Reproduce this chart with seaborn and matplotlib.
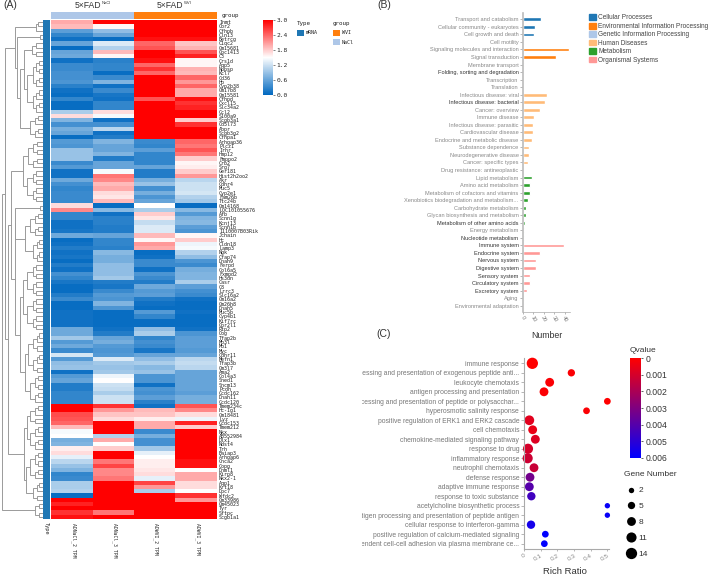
import numpy as np
import pandas as pd
import seaborn as sns
import matplotlib
matplotlib.use("Agg")
import matplotlib.pyplot as plt
from matplotlib.cm import ScalarMappable
from matplotlib.colors import LinearSegmentedColormap, ListedColormap, Normalize
from matplotlib.lines import Line2D
from matplotlib.patches import Patch, Rectangle
from matplotlib.transforms import Bbox, TransformedBbox

# =============================================================================
# PANEL A DATA
# =============================================================================

genes = [
    "Inmt", "Cbr2", "Cfhpb", "Cln13", "Betrcg", "C1qc2", "Gm15681", "Gpc1413", "C3", "Crs1d",
    "Aqp5", "Nppsp", "Kcl7", "Cd36", "Hp", "Cyp2b38", "Gm17b8", "Gm15581", "Cfhpd", "Cxcl15",
    "Slc34a2", "Ccl2", "S100a9", "Scgb3a1", "Cd5l73", "Abpr", "Scgb3g2", "Cfhpa1", "Arhgap36", "Plcz1",
    "Irhr", "Hmp12", "Fmppo2", "Crb2", "Srg7", "Ger181", "Hist2h2oo2", "Akr", "Cdhr4", "Muc5",
    "Cyp2e1", "Fam26b", "Ttc24b", "Gm14168", "LOC101055676", "Afb", "Scnn1g", "Kcnj13", "Scnn1b", "1110007B03Rik",
    "Jchain", "Hc", "Cldn18", "Lamp3", "Ngk", "Cfap74", "Dnah9", "Ferpd", "Col6a5", "Fxmpd2",
    "Hs3dn", "Casr", "C8", "Lrrc3", "Slc16a2", "Gm16a2", "Gm26h8", "Dnah5", "Muc5b", "Cyp4b1",
    "Kif7rc", "Gpr2l1", "Rtp2", "Oog", "Tfap2b", "Mb3l", "Mb1", "Myc", "Cdhr11", "Mefn1",
    "Tfap3b", "Gm3l7", "Ama2", "Col4a3", "Sned1", "Sncm13", "Pcdh", "Ccdc162", "Dnah11", "Ccdc120",
    "Tmem234c", "Hc-Ig1", "Gm18481", "Lyz", "Ccdc153", "Tmem212", "Nkx", "AB552984", "Dlx1", "Ndst4",
    "Trh", "Baiap3", "Arhgap6", "Cnca2", "Copg", "Dnml1", "Kirp8", "Nkx2-1", "Aqp1", "Krt18",
    "Dpc7", "Wfdc2", "Gm33986", "Gm45023", "Tyr", "Sftpc", "Scgb1a1",
]

nacl_2 = [
    2.0, 1.9, .55, .3, .1, .6, .05, .6, .65, .1, .35, .35, .4, .4, .45, .25, .1, .05, .3, .05,
    .05, 1.0, 1.7, .75, .4, .7, .6, .05, .5, .45, .9, .9, .9, .35, .5, .1, .1, .65, .4, .3,
    .35, .35, .35, 1.7, 2.2, .3, .3, .1, .1, .15, .65, .05, .1, .2, .1, .15, .05, .2, .1, .4,
    .3, .15, .05, .05, .2, .35, .05, .05, .1, .1, .1, .1, .65, .65, .95, .5, .65, .35, 1.25, .5,
    .85, .9, .1, .5, .6, .2, .2, .3, .3, .3, 3, 3, 2.55, 2.5, 2.4, 1.9, 1.45, 1.5, .7, .75,
    1.6, 1.7, 1.35, 1.1, .9, .75, .3, .35, 1.0, 1.0, 1.05, .05, 3, 2.8, 3, 2.7, 2.9,
]
nacl_3 = [
    3, 1.55, .85, .6, .05, 1.3, 1.05, 1.9, 1.55, .25, .3, .3, .05, .35, .75, .1, .35, .15, .1, .3,
    .3, 1.7, 1.45, .1, .4, 1.1, .1, .2, .75, .6, .6, .75, .2, .6, .6, 1.45, 2.3, 2.2, 1.9, 2.0,
    1.7, 1.65, 1.9, .05, .8, .1, .25, .25, .2, .2, .6, .3, .3, .25, .8, .7, .7, .85, .85, .85,
    .95, .2, .15, .35, .5, .45, .75, .45, .05, .05, .05, .05, .1, .2, .6, .7, .5, .45, .5, 1.3,
    .95, .9, .95, 1.4, 1.5, 1.2, 1.15, 1.0, 1.2, 1.2, 2.7, 2.1, 1.85, 1.7, 3, 3, 3, 1.05, 2.0, 1.5,
    1.8, 3, 3, 2.3, 2.6, 2.2, 2.2, 2.3, 3, 3, 3, 3, 3, 3, 3, 2.3, 3,
]
wvi_2 = [
    3, 3, 3, 3, 2.9, 2.4, 2.5, 3, 3, 2.9, 2.4, 2.7, 2.4, 3, 3, 3, 3, 3, 2.5, 3,
    3, 3, 3, 3, 3, 3, 3, 3, .35, .3, .55, .3, .3, .3, .6, .2, .2, .7, .9, .4,
    .7, .45, .6, 1.5, 1.0, 1.8, 1.65, 1.15, 1.3, 1.3, 1.9, 1.55, 2.1, 2.0, .05, .1, .35, .35, .1, .45,
    .35, .2, .65, .5, .55, .2, .1, .05, .5, .3, .05, .05, .85, 1.0, .3, .4, .35, .15, .6, .85,
    1.0, .8, .9, .45, .45, .1, .45, .4, .55, .25, .1, 1.9, 1.85, 1.6, 2.0, 2.0, .35, .7, .4, .4,
    .95, 1.35, 1.5, 1.6, 1.6, 1.65, 1.7, 1.35, 2.6, 2.1, 1.0, 3, 3, 3, 3, 3, 3,
]
wvi_3 = [
    3, 3, 3, 3, 2.9, 1.85, 1.95, 2.5, 2.8, 1.55, 1.55, 1.95, 1.9, 2.4, 2.1, 2.4, 2.0, 2.0, 2.9, 2.7,
    2.8, 3, 3, 1.8, 2.7, 3, 3, 3, 2.4, 2.3, 2.5, 2.3, 1.8, 1.55, 1.6, 1.8, 2.1, 1.1, 1.2, 1.2,
    1.25, 1.05, .95, .05, .8, .5, .75, .8, .55, .45, 1.55, 1.8, 1.4, 1.45, 1.05, .85, .45, .35, .7, .75,
    .75, 1.0, .55, .4, .35, .1, .05, .05, .1, .05, .05, .05, .1, .45, .55, .55, .55, .5, .6, 1.1,
    1.15, 1.1, .6, .6, .6, .6, .6, .55, .7, .7, 2.5, 2.2, 1.7, 1.4, 2.8, 1.8, 3, 3, 3, 3,
    3, 3, 3, 2.9, 2.9, 1.5, 2.0, 2.0, 1.7, 1.7, 1.5, 2.7, 2.1, 3, 3, 3, 3,
]
sample_labels = ["ADNaCl_2 TPM", "ADNaCl_3 TPM", "ADWVI_2 TPM", "ADWVI_3 TPM"]

# dendrogram: (distance, upper, lower), (distance, n leaves) or 1 leaf
tree_a = (15, (36, 3), (17, (40, 2), (20, (24, (32, 4), (27, 13)), (30, 6))))
tree_b = (23, (28, 7), (27, 8))
tree_c = (15, (40, 2), (25, (30, 6), (33, 6)))
tree_d = (20, (23, (27, 8), (27, 8)), (25, (28, 10), (30, 7)))
tree_f = (24, (27, (30, 5), (30, 6)), (26, (30, 7), (33, 5)))
tree_g = (35, (39, 2), (39, 2))
link_tree = (1.5, (5, tree_a, (7.5, (11, tree_b, (15, tree_c, tree_d)), tree_f)), tree_g)

# =============================================================================
# PANEL B DATA
# =============================================================================

pathways = [
    "Transport and catabolism", "Cellular community - eukaryotes", "Cell growth and death", "Cell motility",
    "Signaling molecules and interaction", "Signal transduction", "Membrane transport",
    "Folding, sorting and degradation", "Transcription", "Translation",
    "Infectious disease: viral", "Infectious disease: bacterial", "Cancer: overview", "Immune disease",
    "Infectious disease: parasitic", "Cardiovascular disease", "Endocrine and metabolic disease",
    "Substance dependence", "Neurodegenerative disease", "Cancer: specific types",
    "Drug resistance: antineoplastic", "Lipid metabolism", "Amino acid metabolism",
    "Metabolism of cofactors and vitamins", "Xenobiotics biodegradation and metabolism...",
    "Carbohydrate metabolism", "Glycan biosynthesis and metabolism", "Metabolism of other amino acids",
    "Energy metabolism", "Nucleotide metabolism", "Immune system", "Endocrine system", "Nervous system",
    "Digestive system", "Sensory system", "Circulatory system", "Excretory system", "Aging",
    "Environmental adaptation",
]
pathway_counts = [
    17, 12, 11, 1, 44, 32, 1, 0, 0, 0, 23, 21, 16, 11, 10, 10, 9, 6, 6, 5,
    0, 9, 7, 7, 5, 3, 3, 2, 1, 1, 39, 16, 13, 13, 7, 7, 4, 1, 1,
]
group_names = [
    "Cellular Processes", "Environmental Information Processing", "Genetic Information Processing",
    "Human Diseases", "Metabolism", "Organismal Systems",
]
group_sizes = [4, 3, 3, 11, 9, 9]
group_colors = ["#1f77b4", "#ff7f0e", "#aec7e8", "#ffbb78", "#2ca02c", "#ff9896"]
dark_pathways = [
    "Folding, sorting and degradation", "Infectious disease: bacterial", "Metabolism of other amino acids",
    "Nucleotide metabolism", "Immune system", "Endocrine system", "Nervous system", "Digestive system",
    "Sensory system", "Circulatory system", "Excretory system",
]

# =============================================================================
# PANEL C DATA
# =============================================================================

terms = [
    "immune response", "antigen processing and presentation of exogenous peptide anti...",
    "leukocyte chemotaxis", "antigen processing and presentation",
    "antigen processing and presentation of peptide or polysacchar...", "hyperosmotic salinity response",
    "positive regulation of ERK1 and ERK2 cascade", "cell chemotaxis", "chemokine-mediated signaling pathway",
    "response to drug", "inflammatory response", "neutrophil chemotaxis", "defense response",
    "adaptive immune response", "response to toxic substance", "acetylcholine biosynthetic process",
    "antigen processing and presentation of peptide antigen", "cellular response to interferon-gamma",
    "positive regulation of calcium-mediated signaling",
    "calcium-independent cell-cell adhesion via plasma membrane ce...",
]
rich_ratio = [.05, .284, .154, .12, .5, .375, .032, .052, .068, .024, .022, .06, .036, .032, .044, .5, .5, .042, .128, .122]
qvalues = [0, .0001, .0001, .0001, 0, .0001, .0007, .0005, .0008, .001, .0012, .0013, .0033, .004, .0045, .0058, .0058, .0055, .006, .006]
gene_counts = [14, 5, 8, 8, 4, 4, 10, 8, 8, 11, 11, 8, 8, 8, 7, 2, 2, 7, 4, 4]
gene_legend = [2, 5, 8, 11, 14]
q_ticks = [0, .001, .002, .003, .004, .005, .006]

# =============================================================================
# FIGURE SETUP
# =============================================================================

sns.set_theme(style="white")
plt.rcParams["font.family"] = ["Liberation Sans", "DejaVu Sans"]

W, H = 709, 576
fig = plt.figure(figsize=(W / 100, H / 100), dpi=100)


def ax_px(x0, y0, x1, y1):
    return fig.add_axes([x0 / W, 1 - y1 / H, (x1 - x0) / W, (y1 - y0) / H])


def text_px(x, y, s, **kw):
    kw.setdefault("va", "center")
    fig.text(x / W, 1 - y / H, s, **kw)


def square_px(x0, y0, x1, y1, color):
    fig.add_artist(Rectangle((x0 / W, 1 - y1 / H), (x1 - x0) / W, (y1 - y0) / H,
                             transform=fig.transFigure, color=color, lw=0))


# =============================================================================
# PANEL A - HEATMAP
# =============================================================================

MONO = "DejaVu Sans Mono"
heat_cmap = LinearSegmentedColormap.from_list("heat", ["#0068c0", "#ffffff", "#ff0000"])
heat_df = pd.DataFrame({"n2": nacl_2, "n3": nacl_3, "w2": wvi_2, "w3": wvi_3}, index=genes)

ax_heat = ax_px(51, 20, 217, 519)
ax_cbar = ax_px(263, 20, 273, 95)
sns.heatmap(heat_df, cmap=heat_cmap, vmin=0, vmax=3, ax=ax_heat, cbar_ax=ax_cbar,
            xticklabels=False, yticklabels=True)
ax_heat.yaxis.tick_right()
ax_heat.tick_params(axis="y", length=0, pad=1.5, labelrotation=0)
for lab in ax_heat.get_yticklabels():
    lab.set_fontsize(3.6)
    lab.set_family(MONO)
    lab.set_color("#222222")
ax_heat.set_xlabel("")
ax_heat.set_ylabel("")

ax_cbar.set_yticks([0, .6, 1.2, 1.8, 2.4, 3.0])
ax_cbar.set_yticklabels(["0.0", "0.6", "1.2", "1.8", "2.4", "3.0"], fontsize=4.5, family=MONO)
ax_cbar.tick_params(axis="y", length=1.5, width=.4, pad=1, right=True)

# group bar
ax_group = ax_px(51, 12, 217, 19)
sns.heatmap(pd.DataFrame([[0, 0, 1, 1]]), cmap=ListedColormap(["#aec7e8", "#ff7f0e"]), cbar=False,
            ax=ax_group, xticklabels=False, yticklabels=False)
ax_group.set_xlabel("")
ax_group.set_ylabel("")
text_px(222, 15, "group", fontsize=4.2, family=MONO, color="#222222")

# type bar
ax_type = ax_px(43, 20, 50, 519)
sns.heatmap(pd.DataFrame(np.zeros((len(genes), 1))), cmap=ListedColormap(["#1f77b4"]), cbar=False,
            ax=ax_type, xticklabels=False, yticklabels=False)
text_px(46.5, 522, "Type", fontsize=3.8, family=MONO, rotation=270, ha="center", va="top", color="#222222")

for x, lab in zip([73.5, 115, 156, 198], sample_labels):
    text_px(x, 523, lab, fontsize=3.4, family=MONO, rotation=270, ha="center", va="top", color="#222222")

# dendrogram
ax_tree = ax_px(0, 20, 43, 519)
ax_tree.set_xlim(0, 43)
ax_tree.set_ylim(len(genes), 0)
ax_tree.axis("off")
next_leaf = [0]


def draw_clade(node):
    if node == 1:
        next_leaf[0] += 1
        return 43, next_leaf[0] - 0.5
    if len(node) == 2:
        x, n = node
        if n == 1:
            return draw_clade(1)
        step = x + (43 - x) * 0.35
        top = n // 2 + n % 2
        parts = [(step, top) if top > 1 else 1, (step, n - top) if n - top > 1 else 1]
    else:
        x, parts = node[0], node[1:]
    x1, y1 = draw_clade(parts[0])
    x2, y2 = draw_clade(parts[1])
    ax_tree.plot([x1, x, x, x2], [y1, y1, y2, y2], color="#9a9a9a", lw=0.7, solid_joinstyle="miter")
    return x, (y1 + y2) / 2


draw_clade(link_tree)

# titles and legends of panel A
text_px(3, 5, "(A)", fontsize=7.5, color="#333333")
text_px(101.5, 5.5, "5×FAD", fontsize=6.2, ha="right", color="#333333")
text_px(102, 3, "NaCl", fontsize=3, color="#333333")
text_px(183, 5.5, "5×FAD", fontsize=6.2, ha="right", color="#333333")
text_px(183.5, 3, "WVI", fontsize=3, color="#333333")
text_px(297, 24, "Type", fontsize=4.2, family=MONO, color="#222222")
square_px(297, 30, 304, 36, "#1f77b4")
text_px(306, 33, "mRNA", fontsize=3.6, family=MONO, color="#222222")
text_px(333, 24, "group", fontsize=4.2, family=MONO, color="#222222")
square_px(333, 30, 340, 36, "#ff7f0e")
text_px(342, 33, "WVI", fontsize=3.6, family=MONO, color="#222222")
square_px(333, 39, 340, 45, "#aec7e8")
text_px(342, 42, "NaCl", fontsize=3.6, family=MONO, color="#222222")

# =============================================================================
# PANEL B - BAR CHART
# =============================================================================

pathway_df = pd.DataFrame({
    "pathway": pathways,
    "count": pathway_counts,
    "group": np.repeat(group_names, group_sizes),
})
ax_bar = ax_px(522.7, 13, 570, 312)
sns.barplot(data=pathway_df, y="pathway", x="count", hue="group", hue_order=group_names,
            palette=group_colors, dodge=False, width=0.5, saturation=1, legend=False, ax=ax_bar)
ax_bar.set_xlim(0, 44.8)
ax_bar.set_ylim(38.84, -0.84)
ax_bar.set_xticks([0, 10, 20, 30, 40])
ax_bar.set_xlabel("")
ax_bar.set_ylabel("")
ax_bar.tick_params(axis="y", length=2, width=.5, color="#999999", pad=1, left=True)
ax_bar.tick_params(axis="x", length=1.5, width=.5, color="#999999", pad=1, bottom=True, labelsize=4, labelcolor="#777777", labelrotation=-60)
for lab in ax_bar.get_yticklabels():
    lab.set_fontsize(4.1)
    lab.set_color("#333333" if lab.get_text() in dark_pathways else "#888888")
sns.despine(ax=ax_bar)
ax_bar.spines["left"].set_color("#bbbbbb")
ax_bar.spines["left"].set_linewidth(1.2)
ax_bar.spines["bottom"].set_color("#aaaaaa")
ax_bar.spines["bottom"].set_linewidth(.5)

handles = [Patch(color=c) for c in group_colors]
fig.legend(handles, group_names, loc="upper left", bbox_to_anchor=(584 / W, 1 - 9 / H), frameon=False,
           fontsize=4.7, handlelength=1.0, handleheight=1.0, labelspacing=0.2, handletextpad=0.4,
           borderpad=0.3, labelcolor="#444444")

text_px(377, 5, "(B)", fontsize=7.5, color="#333333")
text_px(546.5, 336, "Number", fontsize=6.3, ha="center", color="#333333")
text_px(376, 334, "(C)", fontsize=7.5, color="#333333")

# =============================================================================
# PANEL C - BUBBLE CHART
# =============================================================================

q_cmap = LinearSegmentedColormap.from_list("qvalue", ["#ff0000", "#0000ff"])
bubble_df = pd.DataFrame({"term": terms, "ratio": rich_ratio, "q": qvalues, "genes": gene_counts})
ax_bub = ax_px(524, 358, 608.7, 549)
sns.scatterplot(data=bubble_df, x="ratio", y="term", hue="q", palette=q_cmap, hue_norm=(0, .006),
                size="genes", sizes=(15, 66), size_norm=(2, 14), linewidth=0, alpha=1,
                clip_on=False, legend=False, ax=ax_bub)
ax_bub.set_xlim(0, .508)
ax_bub.set_ylim(19.56, -0.56)
ax_bub.set_xticks([0, .1, .2, .3, .4, .5])
ax_bub.set_xticklabels(["0", "0.1", "0.2", "0.3", "0.4", "0.5"], rotation=30, ha="right", rotation_mode="anchor",
                       fontsize=4.6, color="#888888")
ax_bub.set_xlabel("")
ax_bub.set_ylabel("")
ax_bub.tick_params(axis="y", length=2, width=.5, color="#999999", pad=1.5, left=True)
ax_bub.tick_params(axis="x", length=1.5, width=.5, color="#999999", pad=1.5, bottom=True)
clip_box = TransformedBbox(Bbox([[362 / W, 0], [1, 1]]), fig.transFigure)
for lab in ax_bub.get_yticklabels():
    lab.set_fontsize(4.9)
    lab.set_color("#777777")
    lab.set_clip_box(clip_box)
    lab.set_clip_on(True)
sns.despine(ax=ax_bub)
for side in ["left", "bottom"]:
    ax_bub.spines[side].set_color("#aaaaaa")
    ax_bub.spines[side].set_linewidth(.8)
text_px(565, 571, "Rich Ratio", fontsize=6.8, ha="center", color="#333333")

ax_q = ax_px(630, 358, 641, 458)
q_bar = fig.colorbar(ScalarMappable(Normalize(0, .006), q_cmap), cax=ax_q)
q_bar.outline.set_visible(False)
ax_q.invert_yaxis()
q_bar.set_ticks(q_ticks)
q_bar.set_ticklabels([f"{q:g}" for q in q_ticks])
ax_q.tick_params(axis="y", length=1.5, width=.5, pad=1.5, labelsize=6.2, labelcolor="#333333", right=True)
text_px(629.5, 350, "Qvalue", fontsize=6, color="#333333")
text_px(624, 475, "Gene Number", fontsize=6, color="#333333")

size_scale = lambda g: 15 + (g - 2) / 12 * 51
size_handles = [Line2D([], [], ls="", marker="o", color="black", mew=0, markersize=np.sqrt(size_scale(g))) for g in gene_legend]
fig.legend(size_handles, gene_legend, loc="upper left", bbox_to_anchor=(618 / W, 1 - 480 / H), frameon=False,
           fontsize=6, labelspacing=0.95, handletextpad=0.1, handlelength=1.6, borderpad=0.3, labelcolor="#333333")

fig.savefig("out.png", dpi=100)
